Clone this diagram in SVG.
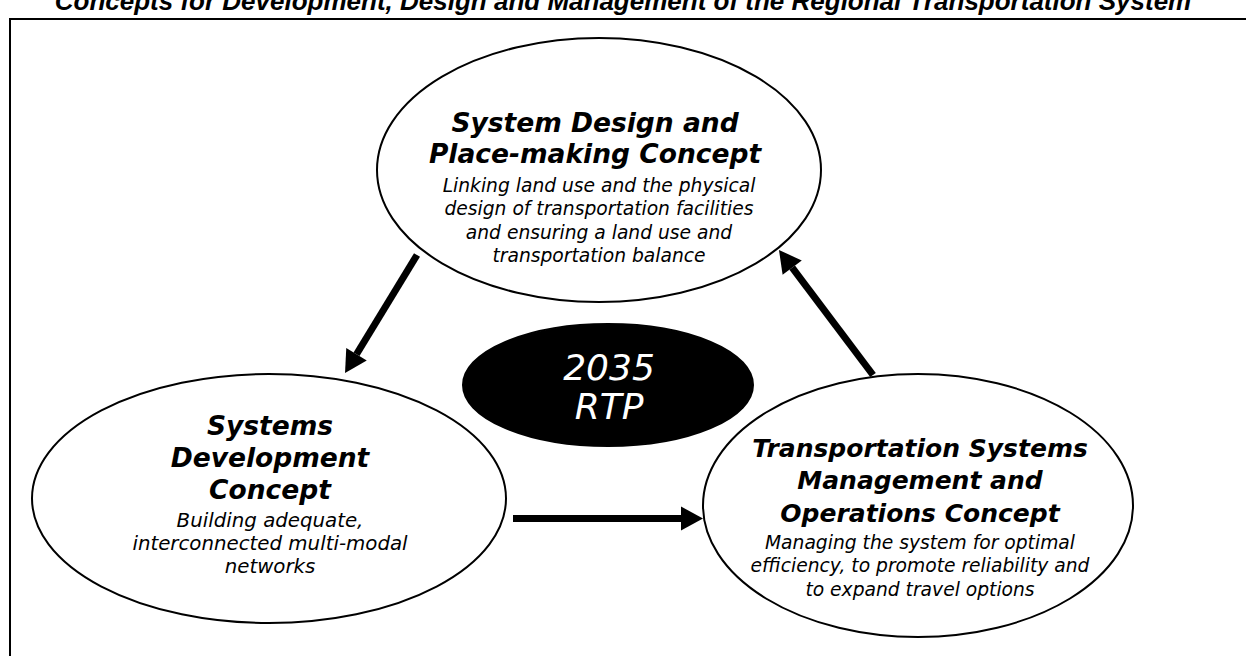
<svg xmlns="http://www.w3.org/2000/svg" width="1246" height="656" viewBox="0 0 1246 656">
  <style>
    .frame { fill: none; stroke: #000; stroke-width: 2; }
    .title { font-family: "Liberation Sans", Arial, sans-serif; font-weight: bold; font-style: italic; font-size: 26px; fill: #000; }
    .concept { fill: #fff; stroke: #000; stroke-width: 2; }
    .hub { fill: #000; stroke: #000; stroke-width: 2; }
    .head { font-family: "DejaVu Sans", Verdana, sans-serif; font-weight: bold; font-style: italic; font-size: 26.5px; fill: #000; text-anchor: middle; }
    .body { font-family: "DejaVu Sans", Verdana, sans-serif; font-style: italic; font-size: 18.7px; fill: #000; text-anchor: middle; }
    .head.sm { font-size: 25px; }
    .body.lg { font-size: 19.8px; }
    .hubtext { font-family: "DejaVu Sans", Verdana, sans-serif; font-style: italic; font-size: 36px; fill: #fff; text-anchor: middle; }
    .flow { fill: none; stroke: #000; stroke-width: 7; stroke-linecap: butt; marker-end: url(#arrow); }
  </style>
  <defs>
    <marker id="arrow" markerUnits="userSpaceOnUse" markerWidth="22" markerHeight="24" refX="0" refY="12" orient="auto" overflow="visible">
      <path d="M0,0 L22,12 L0,24 Z" fill="#000"/>
    </marker>
  </defs>

  <rect width="1246" height="656" fill="#fff"/>

  <!-- heading and outer frame -->
  <text class="title" x="623" y="10" text-anchor="middle">Concepts for Development, Design and Management of the Regional Transportation System</text>
  <rect class="frame" x="10" y="19" width="1260" height="700"/>

  <!-- connectors -->
  <g id="connectors">
    <line class="flow" x1="417" y1="255" x2="356.5" y2="354.2"/>
    <line class="flow" x1="873" y1="375" x2="792.2" y2="267.6"/>
    <line class="flow" x1="513" y1="518.5" x2="681" y2="518.5"/>
  </g>

  <g id="system-design">
    <ellipse class="concept" cx="599" cy="170" rx="222" ry="132"/>
    <text class="head" x="595" y="132">System Design and</text>
    <text class="head" x="595" y="163">Place-making Concept</text>
    <text class="body" x="599" y="192">Linking land use and the physical</text>
    <text class="body" x="599" y="215">design of transportation facilities</text>
    <text class="body" x="599" y="238.5">and ensuring a land use and</text>
    <text class="body" x="599" y="262">transportation balance</text>
  </g>

  <g id="systems-development">
    <ellipse class="concept" cx="269" cy="498.5" rx="237" ry="124.5"/>
    <text class="head" x="270" y="435">Systems</text>
    <text class="head" x="270" y="467">Development</text>
    <text class="head" x="270" y="499">Concept</text>
    <text class="body lg" x="270" y="527">Building adequate,</text>
    <text class="body lg" x="270" y="550">interconnected multi-modal</text>
    <text class="body lg" x="270" y="573">networks</text>
  </g>

  <g id="tsmo">
    <ellipse class="concept" cx="918" cy="505.5" rx="215" ry="131.5"/>
    <text class="head sm" x="920" y="457">Transportation Systems</text>
    <text class="head sm" x="920" y="489">Management and</text>
    <text class="head sm" x="920" y="522">Operations Concept</text>
    <text class="body" x="920" y="549">Managing the system for optimal</text>
    <text class="body" x="920" y="572">efficiency, to promote reliability and</text>
    <text class="body" x="920" y="596">to expand travel options</text>
  </g>

  <g id="rtp-2035">
    <ellipse class="hub" cx="608" cy="385" rx="145" ry="61"/>
    <text class="hubtext" x="609" y="380">2035</text>
    <text class="hubtext" x="609" y="419">RTP</text>
  </g>
</svg>
